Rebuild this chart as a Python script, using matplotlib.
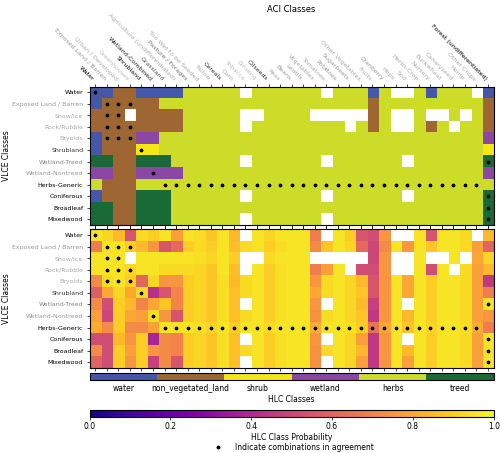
import numpy as np
import matplotlib.pyplot as plt
from matplotlib.colors import ListedColormap
from matplotlib.lines import Line2D

nan = np.nan

aci_classes = ['Water', 'Exposed Land / Barren', 'Urban / Developed', 'Greenhouses',
               'Shrubland', 'Wetland-Combined', 'Grassland', 'Agriculture (undifferentiated)',
               'Pasture / Forages', 'Too Wet to be Seeded', 'Fallow', 'Cereals', 'Corn',
               'Tobacco', 'Ginseng', 'Oilseeds', 'Peas', 'Beans', 'Lentils', 'Vegetables',
               'Tomatoes', 'Potatoes', 'Sugarbeets', 'Other Vegetables', 'Fruits',
               'Cranberry', 'Hops', 'Sod', 'Herbs-Crop', 'Nursery', 'Buckwheat',
               'Canaryseed', 'Hemp', 'Other Crops', 'Forest (undifferentiated)']
vlce_classes = ['Water', 'Exposed Land / Barren', 'Snow/Ice', 'Rock/Rubble', 'Bryoids',
                'Shrubland', 'Wetland-Treed', 'Wetland-Nontreed', 'Herbs-Generic',
                'Coniferous', 'Broadleaf', 'Mixedwood']
hlc_classes = ['water', 'non_vegetated_land', 'shrub', 'wetland', 'herbs', 'treed']
hlc_codes = 'wnsmht'

# HLC class each ACI / VLCE class maps to
aci_hlc = 'wnnnsm' + 'h' * 28 + 't'
vlce_hlc = 'wnnnnstmhttt'

# most probable HLC class for each VLCE (row) x ACI (column) pair, '.' = no data
hlc_argmax = [
    'wwnnwwwwhhhhh.hhhhhh.hhhwh..hwhhh.w',
    'wnnnnnhhhhhhhhhhhhhhhhhhnhhhhhhhhhn',
    'nnn.nnnnhhhhh..hhhh.....nh..h..h.hn',
    'nnnnnnnnhhhhh.hhhhhhhh.hnh..hnh.hhn',
    'wnnnmmhhhhhhhhhhhhhhhhhhhhhhhhhhhhm',
    'wnnnsshhhhhhhhhhhhhhhhhhhhhhhhhhhhs',
    'ttnnttthhhhhh.hhhhhh.hhhhhh.hhhhhht',
    'mmnnmmmmhhhhhhhhhhhhhhhhhhhhhhhhhhm',
    'hnnnhhhhhhhhhhhhhhhhhhhhhhhhhhhhhhh',
    'wnnnttthhhhhh.hhhhhh.hhhhhh.hhhhhht',
    'ttnnttthhhhhhhhhhhhhhhhhhhhhhhhhhht',
    'ttnnttthhhhhh.hhhhhh.hhhhhhhhhhhhht',
]

hlc_prob = [
    [0.95, 0.92, 0.85, 0.55, 0.93, 0.90, 0.95, 0.78, 0.95, 0.93, 0.88, 0.95, 0.85, nan, 0.95, 0.92, 0.95, 0.95,
     0.95, 0.68, nan, 0.95, 0.90, 0.55, 0.52, 0.75, nan, nan, 0.95, 0.55, 0.95, 0.95, 0.93, nan, 0.85],
    [0.68, 0.95, 0.95, 0.90, 0.85, 0.75, 0.55, 0.62, 0.90, 0.93, 0.90, 0.95, 0.86, 0.93, 0.95, 0.90, 0.94, 0.95,
     0.95, 0.72, 0.88, 0.95, 0.92, 0.62, 0.50, 0.72, 0.95, 0.76, 0.95, 0.88, 0.95, 0.95, 0.93, 0.78, 0.60],
    [0.95, 0.95, 0.95, nan, 0.95, 0.95, 0.95, 0.95, 0.95, 0.94, 0.92, 0.95, 0.90, nan, nan, 0.93, 0.95, 0.95,
     0.95, nan, nan, nan, nan, nan, 0.50, 0.75, nan, nan, 0.95, nan, nan, 0.95, nan, 0.80, 0.92],
    [0.95, 0.95, 0.95, 0.92, 0.95, 0.95, 0.93, 0.93, 0.93, 0.92, 0.88, 0.95, 0.86, nan, 0.95, 0.90, 0.94, 0.95,
     0.95, 0.68, 0.78, 0.95, nan, 0.52, 0.52, 0.75, nan, nan, 0.95, 0.52, 0.95, nan, 0.93, 0.78, 0.85],
    [0.72, 0.93, 0.95, 0.90, 0.60, 0.92, 0.75, 0.75, 0.90, 0.92, 0.88, 0.94, 0.85, 0.93, 0.95, 0.90, 0.94, 0.95,
     0.95, 0.75, 0.93, 0.95, 0.92, 0.85, 0.55, 0.75, 0.95, 0.80, 0.95, 0.90, 0.95, 0.95, 0.93, 0.78, 0.45],
    [0.58, 0.80, 0.92, 0.80, 0.93, 0.42, 0.55, 0.70, 0.90, 0.92, 0.88, 0.94, 0.86, 0.93, 0.95, 0.90, 0.94, 0.95,
     0.95, 0.80, 0.93, 0.95, 0.92, 0.88, 0.55, 0.75, 0.95, 0.80, 0.95, 0.90, 0.95, 0.95, 0.93, 0.78, 0.68],
    [0.72, 0.52, 0.90, 0.85, 0.70, 0.80, 0.88, 0.70, 0.90, 0.92, 0.88, 0.94, 0.86, nan, 0.95, 0.90, 0.94, 0.95,
     0.95, 0.75, nan, 0.95, 0.92, 0.85, 0.48, 0.75, 0.95, nan, 0.95, 0.90, 0.95, 0.95, 0.93, 0.78, 0.95],
    [0.78, 0.50, 0.90, 0.80, 0.78, 0.93, 0.75, 0.55, 0.90, 0.92, 0.88, 0.94, 0.86, 0.93, 0.95, 0.90, 0.94, 0.95,
     0.95, 0.74, 0.93, 0.95, 0.92, 0.88, 0.45, 0.75, 0.95, 0.85, 0.95, 0.90, 0.95, 0.95, 0.93, 0.78, 0.75],
    [0.82, 0.72, 0.90, 0.72, 0.72, 0.78, 0.95, 0.95, 0.95, 0.94, 0.92, 0.95, 0.90, 0.95, 0.95, 0.93, 0.95, 0.95,
     0.95, 0.82, 0.95, 0.95, 0.94, 0.90, 0.65, 0.80, 0.95, 0.88, 0.95, 0.92, 0.95, 0.95, 0.94, 0.82, 0.68],
    [0.52, 0.52, 0.85, 0.75, 0.90, 0.38, 0.72, 0.70, 0.90, 0.92, 0.88, 0.94, 0.86, nan, 0.95, 0.90, 0.94, 0.95,
     0.95, 0.75, nan, 0.95, 0.92, 0.78, 0.45, 0.75, 0.95, nan, 0.95, 0.90, 0.95, 0.95, 0.93, 0.78, 0.95],
    [0.72, 0.52, 0.90, 0.78, 0.90, 0.75, 0.72, 0.70, 0.90, 0.92, 0.88, 0.94, 0.86, 0.93, 0.95, 0.90, 0.94, 0.95,
     0.95, 0.74, 0.93, 0.95, 0.92, 0.85, 0.45, 0.75, 0.95, 0.85, 0.95, 0.90, 0.95, 0.95, 0.93, 0.78, 0.95],
    [0.60, 0.52, 0.90, 0.75, 0.90, 0.48, 0.72, 0.55, 0.90, 0.92, 0.88, 0.94, 0.86, nan, 0.95, 0.90, 0.94, 0.95,
     0.95, 0.74, nan, 0.95, 0.92, 0.78, 0.45, 0.75, 0.95, 0.78, 0.95, 0.90, 0.95, 0.95, 0.93, 0.78, 0.95],
]

# styling
hlc_colors = ['#4457a8', '#9e6633', '#f5e614', '#8c47a5', '#cddc28', '#1a6a37']
aci_label_colors = ['#000000', '#999999', '#aaaaaa', '#bbbbbb', '#111111', '#222222', '#555555',
                    '#aaaaaa', '#777777', '#aaaaaa', '#aaaaaa', '#333333', '#aaaaaa', '#bbbbbb',
                    '#bbbbbb', '#333333', '#aaaaaa', '#999999', '#999999', '#aaaaaa', '#aaaaaa',
                    '#999999', '#999999', '#aaaaaa', '#aaaaaa', '#999999', '#aaaaaa', '#aaaaaa',
                    '#aaaaaa', '#aaaaaa', '#aaaaaa', '#aaaaaa', '#aaaaaa', '#aaaaaa', '#000000']
vlce_label_colors = ['#000000', '#999999', '#aaaaaa', '#aaaaaa', '#aaaaaa', '#333333',
                     '#888888', '#999999', '#000000', '#000000', '#000000', '#000000']

n_rows, n_cols = len(vlce_classes), len(aci_classes)
argmax = np.array([[hlc_codes.index(ch) if ch != '.' else nan for ch in row] for row in hlc_argmax])
prob = np.array(hlc_prob)
agree_r, agree_c = np.where((np.array(list(vlce_hlc))[:, None] == np.array(list(aci_hlc))[None, :])
                            & ~np.isnan(argmax))

fig = plt.figure(figsize=(5, 4.53), dpi=100)
ax_top = fig.add_axes([0.179, 0.5033, 0.8085, 0.3057])
ax_bot = fig.add_axes([0.179, 0.1876, 0.8085, 0.3062])

cat_cmap = ListedColormap(hlc_colors)
cat_cmap.set_bad('white')
prob_cmap = plt.get_cmap('plasma').copy()
prob_cmap.set_bad('white')

im_top = ax_top.imshow(np.ma.masked_invalid(argmax), cmap=cat_cmap, vmin=-0.5, vmax=5.5,
                       aspect='auto', interpolation='nearest')
im_bot = ax_bot.imshow(np.ma.masked_invalid(prob), cmap=prob_cmap, vmin=0, vmax=1,
                       aspect='auto', interpolation='nearest')

for ax in (ax_top, ax_bot):
    ax.scatter(agree_c, agree_r, s=3, c='black', zorder=3)
    ax.set_xticks(range(n_cols))
    ax.set_yticks(range(n_rows))
    ax.set_yticklabels(vlce_classes, fontsize=4.5)
    for lab, col in zip(ax.get_yticklabels(), vlce_label_colors):
        lab.set_color(col)
    ax.tick_params(axis='x', top=True, bottom=True, labeltop=False, labelbottom=False,
                   length=2.5, width=0.5)
    ax.tick_params(axis='y', length=2.5, width=0.5, pad=2)
    ax.set_ylabel('VLCE Classes', fontsize=5.5, labelpad=1)
    for sp in ax.spines.values():
        sp.set_linewidth(0.8)

ax_top.tick_params(axis='x', labeltop=True, pad=1)
ax_top.set_xticklabels(aci_classes, fontsize=4.5, rotation=-45, ha='right')
for lab, col in zip(ax_top.get_xticklabels(), aci_label_colors):
    lab.set_color(col)
ax_top.xaxis.set_label_position('top')
ax_top.set_xlabel('ACI Classes', fontsize=6, labelpad=1)

# categorical HLC colour bar
cax1 = fig.add_axes([0.179, 0.1611, 0.8085, 0.0148])
cb1 = fig.colorbar(im_top, cax=cax1, orientation='horizontal')
cb1.set_ticks(range(len(hlc_classes)))
cb1.set_ticklabels(hlc_classes)
cb1.ax.tick_params(length=0, labelsize=5.5, pad=3)
cb1.set_label('HLC Classes', fontsize=5.5, labelpad=1)
cb1.outline.set_linewidth(0.8)

# probability colour bar
cax2 = fig.add_axes([0.179, 0.0801, 0.8085, 0.0147])
cb2 = fig.colorbar(im_bot, cax=cax2, orientation='horizontal')
cb2.set_ticks([0, 0.2, 0.4, 0.6, 0.8, 1.0])
cb2.ax.tick_params(length=2.5, width=0.5, labelsize=5.5, pad=1.5)
cb2.set_label('HLC Class Probability', fontsize=5.5, labelpad=1)
cb2.outline.set_linewidth(0.8)

handle = Line2D([], [], marker='o', markersize=1.8, color='black', linestyle='none')
fig.legend([handle], ['Indicate combinations in agreement'], loc='lower center',
           bbox_to_anchor=(0.585, -0.012), frameon=False, fontsize=5.5,
           handletextpad=1.2)

fig.savefig('out.png', dpi=100)
